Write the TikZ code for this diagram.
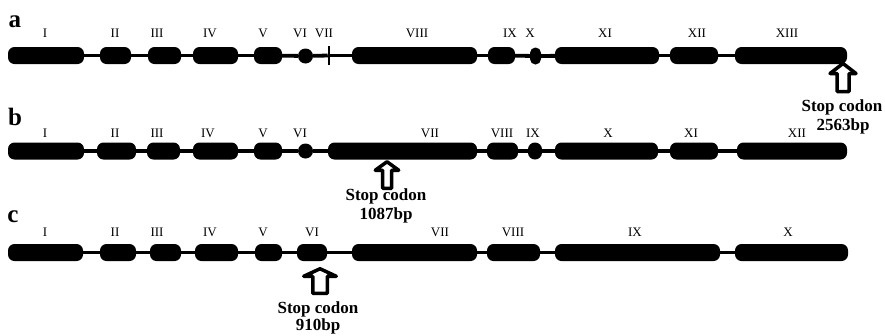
\documentclass[tikz,border=0pt]{standalone}
\usepackage{fontspec}
\setmainfont{Liberation Serif}
\begin{document}
\begin{tikzpicture}[x=1pt,y=-1pt,
  exon/.style={fill=black, rounded corners=6.5pt, minimum height=17pt, inner sep=0pt, outer sep=0pt},
  dot/.style={fill=black, circle, inner sep=0pt, outer sep=0pt, minimum size=15pt},
  tick/.style={fill=black, inner sep=0pt, outer sep=0pt, minimum width=2.5pt, minimum height=19pt},
  intron/.style={line width=3.8pt},
  lbl/.style={anchor=base, font=\fontsize{13}{15}\selectfont, inner sep=0pt},
  panel/.style={anchor=base, font=\fontsize{25}{28}\selectfont\bfseries, inner sep=0pt},
  stoptxt/.style={anchor=base, font=\fontsize{17}{19}\selectfont\bfseries, inner sep=0pt},
  hollow/.style={draw=black, fill=white, line width=3.5pt, line join=round},
  pics/stoparr/.style n args={4}{code={
    \draw[hollow] (0,0) -- (#1,#2) -- (#3,#2) -- (#3,#4) -- (-#3,#4) -- (-#3,#2) -- (-#1,#2) -- cycle;}}
]
\useasboundingbox (0,0) rectangle (885,335);

% panel letters
\node[panel] (pa) at (15,27) {a};
\node[panel] (pb) at (15,125) {b};
\node[panel] (pc) at (13,222) {c};

% ---------------- row a ----------------
\foreach \n/\x/\w in {1/46/76, 2/115.5/31, 3/164.5/33, 4/215.5/45, 5/268/28,
                       8/414.5/125, 9/501.5/27, 11/607/104, 12/694/48, 13/791/112}
  \node[exon, minimum width=\w pt] (a\n) at (\x,55.5) {};
\node[dot] (a6) at (305.5,56) {};
\node[exon, minimum width=11pt, rounded corners=5.4pt] (a10) at (535.5,56) {};
\node[tick] (a7) at (329,55.5) {};
\foreach \i [evaluate=\i as \j using int(\i+1)] in {1,...,12}
  \draw[intron] (a\i) -- (a\j);
\foreach \n/\x/\t in {1/45/I, 2/115/II, 3/157/III, 4/210/IV, 5/263/V, 6/300/VI, 7/324/VII,
                       8/417/VIII, 9/510/IX, 10/530/X, 11/605/XI, 12/697/XII, 13/787/XIII}
  \node[lbl] (la\n) at (\x,37) {\t};

% ---------------- row b ----------------
\foreach \n/\x/\w in {1/46/76, 2/116.5/39, 3/163.5/33, 4/215.5/45, 5/268/28,
                       7/402.5/149, 8/502.5/31, 10/606.5/103, 11/694/48, 12/792/110}
  \node[exon, minimum width=\w pt] (b\n) at (\x,151) {};
\node[dot] (b6) at (305.5,151) {};
\node[exon, minimum width=14pt, rounded corners=6.9pt] (b9) at (535,151) {};
\foreach \i [evaluate=\i as \j using int(\i+1)] in {1,...,11}
  \draw[intron] (b\i) -- (b\j);
\foreach \n/\x/\t in {1/45/I, 2/115/II, 3/157/III, 4/208/IV, 5/263/V, 6/300/VI,
                       7/430/VII, 8/502/VIII, 9/533/IX, 10/608/X, 11/691/XI, 12/797/XII}
  \node[lbl] (lb\n) at (\x,137) {\t};

% ---------------- row c ----------------
\foreach \n/\x/\w in {1/45.5/75, 2/118/36, 3/165.5/31, 4/216.5/43, 5/268.5/27,
                       6/312/30, 7/414.5/125, 8/513.5/53, 9/637.5/165, 10/791.5/113}
  \node[exon, minimum width=\w pt] (c\n) at (\x,252.5) {};
\foreach \i [evaluate=\i as \j using int(\i+1)] in {1,...,9}
  \draw[intron] (c\i) -- (c\j);
\foreach \n/\x/\t in {1/45/I, 2/115/II, 3/157/III, 4/210/IV, 5/263/V, 6/312/VI,
                       7/440/VII, 8/513/VIII, 9/635/IX, 10/788/X}
  \node[lbl] (lc\n) at (\x,236) {\t};

% ---------------- stop codon arrows ----------------
\coordinate (tipa) at (843,63.5);
\pic at (tipa) {stoparr={13}{10}{6}{28}};
\node[stoptxt] (sa1) at (842,111) {Stop codon};
\node[stoptxt] (sa2) at (843,130) {2563bp};

\coordinate (tipb) at (387,161.75);
\pic at (tipb) {stoparr={11.75}{8.5}{4.5}{26.5}};
\node[stoptxt] (sb1) at (386,200) {Stop codon};
\node[stoptxt] (sb2) at (386,219) {1087bp};

\coordinate (tipc) at (320,268.75);
\pic at (tipc) {stoparr={16.25}{7.5}{7.25}{24.5}};
\node[stoptxt] (sc1) at (318,313) {Stop codon};
\node[stoptxt] (sc2) at (318,330.5) {910bp};
\end{tikzpicture}
\end{document}
